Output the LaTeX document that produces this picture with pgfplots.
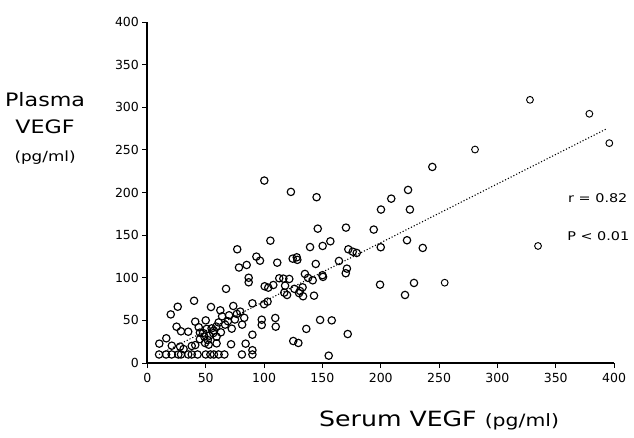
\documentclass[border=0pt]{standalone}
\usepackage{fontspec}
\setmainfont{DejaVu Sans}
\newfontfamily\lblfont[FakeStretch=1.2]{DejaVu Sans}
\usepackage{pgfplots}
\pgfplotsset{compat=1.18}
\usepackage{pgfplotstable}
\pgfplotstableread{
x y
10 10
16 10
20.8 10
26.5 10
28.8 10
35 10
38 10
43 10
50 10
54 10
57 10
61 10
66 10
81 10
90 10
10.2 22.7
16.2 29
20.9 20.3
28 19.2
31 16.4
38 20
41 21
25 42.6
28.8 37.2
35 36.7
41 48.5
50 50
26 66
20 57
40 73
54.5 65.7
62.5 61.8
73.6 66.9
79.6 60.3
76.7 57.6
83 53
90 70
100 69
103 72
109.6 52.8
110 42.6
98 50.8
98 44.6
64 54.8
61 47.6
59 42.7
55 40.6
66.6 45
72.3 40.3
81.2 45
50.8 40
47.7 35.2
45 35.6
48.8 30.9
51.7 27
49.4 23.5
52.5 21.5
56.4 35
59.3 30.9
59.3 23
90 33.2
71.7 22
84.2 22.7
90 15
125 25.8
129.4 23.5
67.4 87
45 28
53 32
57 38
63 36
69 49
70 56
75 51
44 42
100.2 214
123 200.7
105.4 143.5
77 133.4
93.4 124.8
96.5 120
78.5 112
85.1 115
111.3 117.7
124.5 122.4
128 124
128.5 121
86.8 100
86.8 94.7
100.5 90
103.6 88.4
107.9 91.5
113 99.4
116.5 99
121.6 98.6
118 90.7
117.3 82.5
119.7 79.8
126 87
130 82
145 194.5
223.4 203
209 192.8
200.2 180
225 180
146 157.6
170.2 158.8
194 156.5
156.8 142.8
150.2 137.3
139.4 136
222.5 144
200 135.8
236 135
172.2 133.4
176 130.6
179.4 129.1
144.3 116.2
164.2 119.7
171 110.7
170 105.3
150 103
150.5 101
135 104.5
137.7 99.8
141.7 97
133 88.8
133.4 78.3
130.8 84.5
142.8 79
199.4 91.9
228.5 93.9
220.8 79.8
148 50.5
158 50
136.2 40
171.7 34
155.4 8.6
244.2 230
}\pts
\pgfplotstableread{
x y
280.8 250.4
327.9 308.7
378.8 292.3
395.9 257.9
334.8 137.3
254.8 94.2
}\ptsright
\begin{document}
\begin{tikzpicture}
\begin{axis}[
  scale only axis,
  width=466.7pt, height=341pt,
  xmin=0, xmax=400, ymin=0, ymax=400,
  axis lines*=left,
  axis line style={line width=1.8pt},
  xtick={0,50,...,400}, ytick={0,50,...,400},
  tick align=outside,
  major tick length=5pt,
  tick style={line width=1pt, black},
  /pgf/number format/assume math mode=true,
  ticklabel style={font=\fontsize{12.5}{14}\selectfont},
  xticklabel style={yshift=-2pt},
  clip=false,
]
\addplot[only marks, mark=o, mark size=3.7pt, line width=1.15pt, black] table[x=x,y=y] {\pts};
\addplot[only marks, mark=o, mark size=3.4pt, line width=0.95pt, black] table[x=x,y=y] {\ptsright};
\addplot[dotted, line width=1.1pt, black] coordinates {(10,10) (394,275)};
\node[font=\lblfont\fontsize{18.5}{20}\selectfont] at (axis cs:-87.7,308.7) {Plasma};
\node[font=\lblfont\fontsize{18.5}{20}\selectfont] at (axis cs:-87.7,277) {VEGF};
\node[font=\lblfont\fontsize{14}{15}\selectfont] at (axis cs:-87.7,240.6) {(pg/ml)};
\node[anchor=west, font=\lblfont\fontsize{12}{14}\selectfont, inner sep=0pt] at (axis cs:360.5,193.7) {r = 0.82};
\node[anchor=west, font=\lblfont\fontsize{12}{14}\selectfont, inner sep=0pt] at (axis cs:359.7,149) {P < 0.01};
\node[font=\lblfont\fontsize{21}{22}\selectfont] at (axis cs:250,-67) {Serum VEGF \fontsize{17}{18}\selectfont(pg/ml)};
\end{axis}
\pgfresetboundingbox
\path[use as bounding box] ([xshift=-147.4pt,yshift=-74pt]current axis.south west) rectangle ([xshift=486.6pt,yshift=363pt]current axis.south west);
\end{tikzpicture}
\end{document}
